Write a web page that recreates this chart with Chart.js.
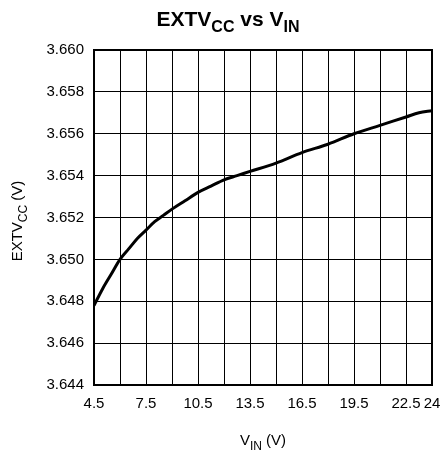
<!DOCTYPE html>
<html>
<head>
<meta charset="utf-8">
<script src="https://cdn.jsdelivr.net/npm/chart.js@4/dist/chart.umd.min.js"></script>
<style>
  body { margin: 0; background: #fff; }
  #wrap { width: 445px; height: 458px; }
</style>
</head>
<body>
<div id="wrap"><canvas id="extvccChart" width="445" height="458"></canvas></div>
<script>
// VIN (V) sample points and EXTVCC (V)
const vin = [4.5, 5.0, 5.5, 6.0, 6.5, 7.0, 7.5, 8.0, 8.5, 9.0, 9.75, 10.5, 11.25, 12.0, 12.75, 13.5, 15.0, 16.5, 18.0, 19.5, 21.0, 22.5, 23.25, 24.0];
const extvcc = [3.6478, 3.6486, 3.6493, 3.6500, 3.6505, 3.6510, 3.6514, 3.6518, 3.6521, 3.6524, 3.6528, 3.6532, 3.6535, 3.6538, 3.6540, 3.6542, 3.6546, 3.6551, 3.6555, 3.6560, 3.6564, 3.6568, 3.6570, 3.6571];

// axis ranges / labelled ticks
const xLabels = [4.5, 7.5, 10.5, 13.5, 16.5, 19.5, 22.5, 24];
const yMin = 3.644, yMax = 3.660, yStep = 0.002;

const FONT = "'Liberation Sans', Arial, Helvetica, sans-serif";

// draws a sequence of [text, size, drop] pieces starting at x
function drawPieces(ctx, pieces, x, y, weight) {
    pieces.forEach(p => {
        ctx.font = weight + ' ' + p[1] + 'px ' + FONT;
        ctx.fillText(p[0], x, y + p[2]);
        x += ctx.measureText(p[0]).width;
    });
}
function piecesWidth(ctx, pieces, weight) {
    let w = 0;
    pieces.forEach(p => {
        ctx.font = weight + ' ' + p[1] + 'px ' + FONT;
        w += ctx.measureText(p[0]).width;
    });
    return w;
}

const titlesPlugin = {
    id: 'titles',
    afterDraw(chart) {
        const ctx = chart.ctx;
        const area = chart.chartArea;
        ctx.save();

        // frame round the plot
        ctx.strokeStyle = '#000';
        ctx.lineWidth = 2;
        ctx.strokeRect(area.left, area.top, area.right - area.left, area.bottom - area.top);

        ctx.fillStyle = '#000';
        ctx.textAlign = 'left';
        ctx.textBaseline = 'alphabetic';

        // main title
        const t = [['EXTV', 21, 0], ['CC', 16, 6], [' vs V', 21, 0], ['IN', 16, 6]];
        let w = piecesWidth(ctx, t, 'bold');
        drawPieces(ctx, t, 228 - w / 2, 26, 'bold');

        // x axis title
        const xt = [['V', 15, 0], ['IN', 12, 5], [' (V)', 15, 0]];
        w = piecesWidth(ctx, xt, 'normal');
        drawPieces(ctx, xt, (area.left + area.right) / 2 - w / 2, 445, 'normal');

        // y axis title (rotated)
        const yt = [['EXTV', 15, 0], ['CC', 12, 5], [' (V)', 15, 0]];
        w = piecesWidth(ctx, yt, 'normal');
        ctx.translate(22, 221);
        ctx.rotate(-Math.PI / 2);
        drawPieces(ctx, yt, -w / 2, 0, 'normal');
        ctx.restore();
    }
};

const ctx = document.getElementById('extvccChart').getContext('2d');
new Chart(ctx, {
    type: 'scatter',
    data: {
        datasets: [{
            data: vin.map((v, i) => ({ x: v, y: extvcc[i] })),
            showLine: true,
            borderColor: '#000',
            borderWidth: 3,
            pointRadius: 0,
            cubicInterpolationMode: 'monotone'
        }]
    },
    options: {
        responsive: false,
        animation: false,
        layout: { padding: { top: 50, left: 0, right: 13, bottom: 0 } },
        plugins: {
            legend: { display: false },
            tooltip: { enabled: false },
            title: { display: false }
        },
        scales: {
            x: {
                type: 'linear',
                min: 4.5,
                max: 24,
                afterFit: s => { s.height = 73; s.paddingLeft = 0; s.paddingRight = 0; },
                border: { color: '#000', width: 2 },
                grid: { color: '#000', lineWidth: 1, drawTicks: false },
                ticks: {
                    stepSize: 1.5,
                    autoSkip: false,
                    maxRotation: 0,
                    padding: 10,
                    color: '#000',
                    font: { family: FONT, size: 15 },
                    callback: v => xLabels.includes(v) ? String(v) : ''
                }
            },
            y: {
                min: yMin,
                max: yMax,
                afterFit: s => { s.width = 94; s.paddingTop = 0; s.paddingBottom = 0; },
                border: { color: '#000', width: 2 },
                grid: { color: '#000', lineWidth: 1, drawTicks: false },
                ticks: {
                    stepSize: yStep,
                    padding: 10,
                    color: '#000',
                    font: { family: FONT, size: 15 },
                    callback: v => v.toFixed(3)
                }
            }
        }
    },
    plugins: [titlesPlugin]
});
</script>
</body>
</html>
